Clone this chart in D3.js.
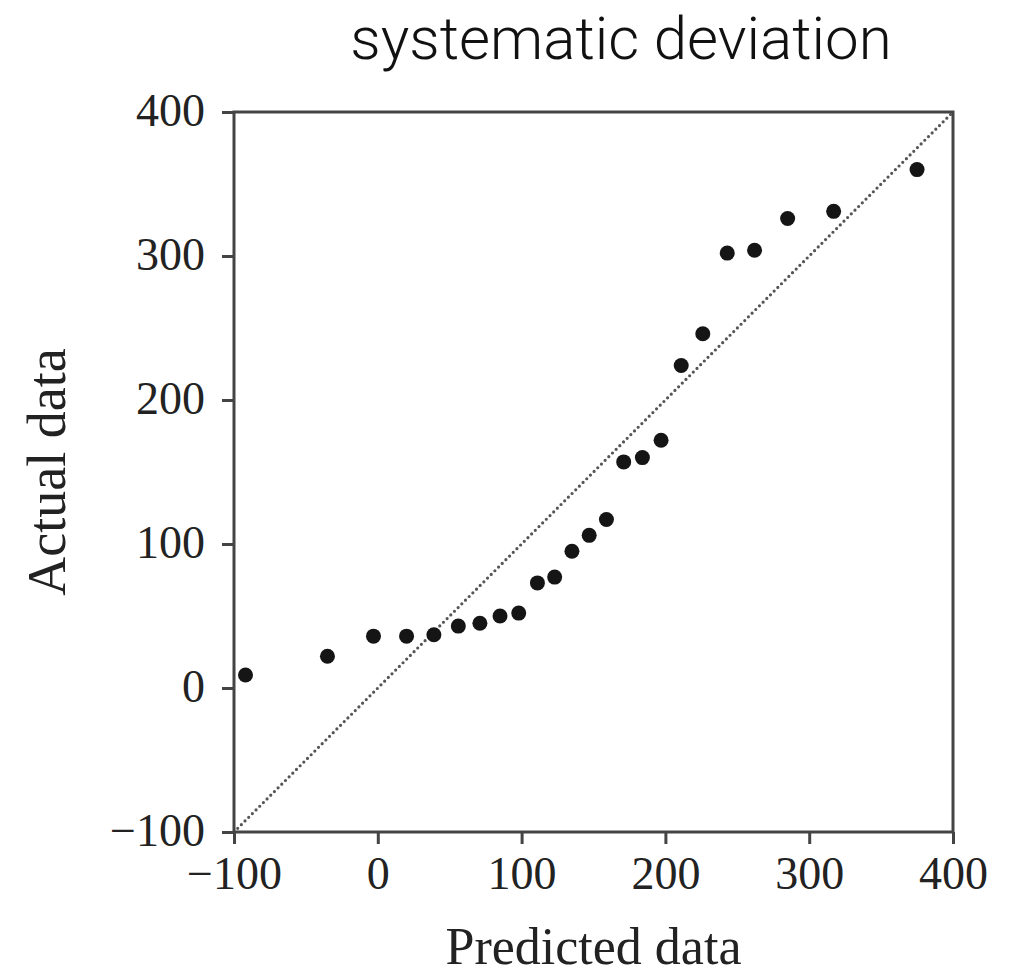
<!DOCTYPE html>
<html>
<head>
<meta charset="utf-8">
<script src="https://cdn.jsdelivr.net/npm/d3@7"></script>
<style>
  body { margin: 0; background: #fff; }
  svg { display: block; }
</style>
</head>
<body>
<div id="chart"></div>
<script>
// predicted vs actual values
var predicted = [-92, -35, -3, 20, 39, 56, 71, 85, 98, 111, 123, 135, 147, 159,
                 171, 184, 197, 211, 226, 243, 262, 285, 317, 375];
var actual    = [9, 22, 36, 36, 37, 43, 45, 50, 52, 73, 77, 95, 106, 117,
                 157, 160, 172, 224, 246, 302, 304, 326, 331, 360];
var xTicks = [-100, 0, 100, 200, 300, 400];
var yTicks = [-100, 0, 100, 200, 300, 400];
var domain = [-100, 400];

var points = predicted.map(function (p, i) { return {x: p, y: actual[i]}; });

var W = 1009, H = 976;
var margin = {top: 112, right: 56, bottom: 144, left: 234};
var width = W - margin.left - margin.right;
var height = H - margin.top - margin.bottom;

var svg = d3.select("#chart").append("svg")
    .attr("width", W)
    .attr("height", H);

// title
svg.append("text")
    .attr("x", 621)
    .attr("y", 59)
    .attr("text-anchor", "middle")
    .style("font-family", "Roboto, 'Liberation Sans', Arial, sans-serif")
    .style("font-weight", 300)
    .style("font-size", "60px")
    .style("fill", "#111")
    .text("systematic deviation");

var g = svg.append("g")
    .attr("transform", "translate(" + margin.left + "," + margin.top + ")");

var x = d3.scaleLinear().domain(domain).range([0, width]);
var y = d3.scaleLinear().domain(domain).range([height, 0]);

var axisColor = "#444";
var serif = "'Liberation Serif', 'Times New Roman', serif";
var fmt = function (d) { return d < 0 ? "\u2212" + Math.abs(d) : d; };

// y=x reference line (dotted)
g.append("line")
    .attr("x1", x(domain[0])).attr("y1", y(domain[0]))
    .attr("x2", x(domain[1])).attr("y2", y(domain[1]))
    .attr("stroke", "#555")
    .attr("stroke-width", 3.2)
    .attr("stroke-linecap", "round")
    .attr("stroke-dasharray", "0,5.2");

// axes
var xAxis = g.append("g")
    .attr("transform", "translate(0," + height + ")")
    .call(d3.axisBottom(x).tickValues(xTicks).tickSize(12).tickSizeOuter(0).tickFormat(fmt));
var yAxis = g.append("g")
    .call(d3.axisLeft(y).tickValues(yTicks).tickSize(12).tickSizeOuter(0).tickFormat(fmt));

[xAxis, yAxis].forEach(function (a) {
    a.select(".domain").remove();
    a.selectAll(".tick line").attr("stroke", axisColor).attr("stroke-width", 3);
    a.selectAll(".tick text")
        .style("font-family", serif)
        .style("font-size", "46px")
        .attr("fill", "#222");
});
xAxis.selectAll(".tick text").attr("dy", "0.71em").attr("y", 24);
yAxis.selectAll(".tick text").attr("x", -29).attr("dy", "0.30em");

// frame
g.append("rect")
    .attr("width", width)
    .attr("height", height)
    .attr("fill", "none")
    .attr("stroke", axisColor)
    .attr("stroke-width", 3);

// points
g.selectAll(".pt")
    .data(points)
    .enter().append("circle")
        .attr("class", "pt")
        .attr("cx", function (d) { return x(d.x); })
        .attr("cy", function (d) { return y(d.y); })
        .attr("r", 7.5)
        .attr("fill", "#151515");

// axis labels
svg.append("text")
    .attr("x", margin.left + width / 2)
    .attr("y", 964)
    .attr("text-anchor", "middle")
    .style("font-family", serif)
    .style("font-size", "52px")
    .style("fill", "#222")
    .text("Predicted data");

svg.append("text")
    .attr("transform", "translate(65," + (margin.top + height / 2) + ") rotate(-90)")
    .attr("text-anchor", "middle")
    .style("font-family", serif)
    .style("font-size", "54px")
    .style("fill", "#222")
    .text("Actual data");
</script>
</body>
</html>
